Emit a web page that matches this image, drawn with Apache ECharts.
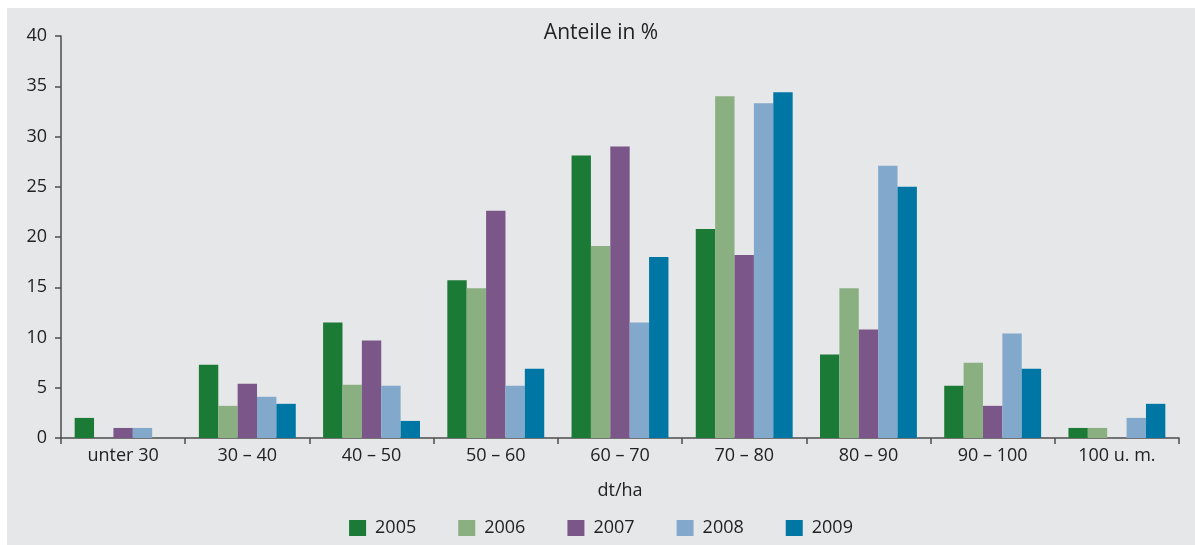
<!DOCTYPE html>
<html>
<head>
<meta charset="utf-8">
<title>Anteile in %</title>
<script src="https://cdn.jsdelivr.net/npm/echarts@6/dist/echarts.min.js"></script>
<style>
  html, body { margin: 0; padding: 0; background: #fff; }
  #chart {
    position: absolute;
    left: 7px;
    top: 8px;
    width: 1188px;
    height: 537px;
    background: #e6e7e9;
  }
</style>
</head>
<body>
<div id="chart"></div>
<script>
const categories = ['unter 30', '30 – 40', '40 – 50', '50 – 60', '60 – 70', '70 – 80', '80 – 90', '90 – 100', '100 u. m.']
const years = ['2005', '2006', '2007', '2008', '2009']
const colors = ['#1a7a36', '#8ab082', '#7b5689', '#82a9cb', '#0076a5']

const data2005 = [2.0, 7.3, 11.5, 15.7, 28.1, 20.8, 8.3, 5.2, 1.0]
const data2006 = [0, 3.2, 5.3, 14.9, 19.1, 34.0, 14.9, 7.5, 1.0]
const data2007 = [1.0, 5.4, 9.7, 22.6, 29.0, 18.2, 10.8, 3.2, 0]
const data2008 = [1.0, 4.1, 5.2, 5.2, 11.5, 33.3, 27.1, 10.4, 2.0]
const data2009 = [0, 3.4, 1.7, 6.9, 18.0, 34.4, 25.0, 6.9, 3.4]

const yTicks = [0, 5, 10, 15, 20, 25, 30, 35, 40]

const seriesData = [data2005, data2006, data2007, data2008, data2009]
const font = '"Open Sans", "Noto Sans", sans-serif'
const axisColor = '#4d4d4d'

const chart = echarts.init(document.getElementById('chart'))
chart.setOption({
  animation: false,
  color: colors,
  textStyle: { fontFamily: font, color: '#222' },
  title: {
    text: 'Anteile in %',
    left: 'center',
    top: 15,
    padding: 0,
    textStyle: { fontFamily: font, fontSize: 21, fontWeight: 'normal', color: '#222' }
  },
  legend: {
    data: years,
    bottom: 3,
    left: 'center',
    itemWidth: 17,
    itemHeight: 16,
    itemGap: 42,
    icon: 'rect',
    textStyle: { fontFamily: font, fontSize: 18, color: '#222', padding: [0, 0, 0, 4] }
  },
  grid: {
    left: 54,
    right: 16,
    top: 28,
    bottom: 107,
    containLabel: false
  },
  xAxis: {
    type: 'category',
    data: categories,
    name: 'dt/ha',
    nameLocation: 'middle',
    nameGap: 44,
    nameTextStyle: { fontFamily: font, fontSize: 18, color: '#222' },
    axisLine: { lineStyle: { color: axisColor, width: 1.5 } },
    axisTick: { show: true, length: 6, lineStyle: { color: axisColor, width: 1.5 } },
    axisLabel: { margin: 9, fontFamily: font, fontSize: 18, color: '#222', interval: 0 }
  },
  yAxis: {
    type: 'value',
    min: yTicks[0],
    max: yTicks[yTicks.length - 1],
    interval: yTicks[1] - yTicks[0],
    splitLine: { show: false },
    axisLine: { show: true, lineStyle: { color: axisColor, width: 1.5 } },
    axisTick: { show: true, length: 6, lineStyle: { color: axisColor, width: 1.5 } },
    axisLabel: { margin: 14, fontFamily: font, fontSize: 18, color: '#222' }
  },
  series: years.map((year, i) => ({
    name: year,
    type: 'bar',
    barGap: 0,
    barCategoryGap: '22%',
    data: seriesData[i]
  }))
})
</script>
</body>
</html>
